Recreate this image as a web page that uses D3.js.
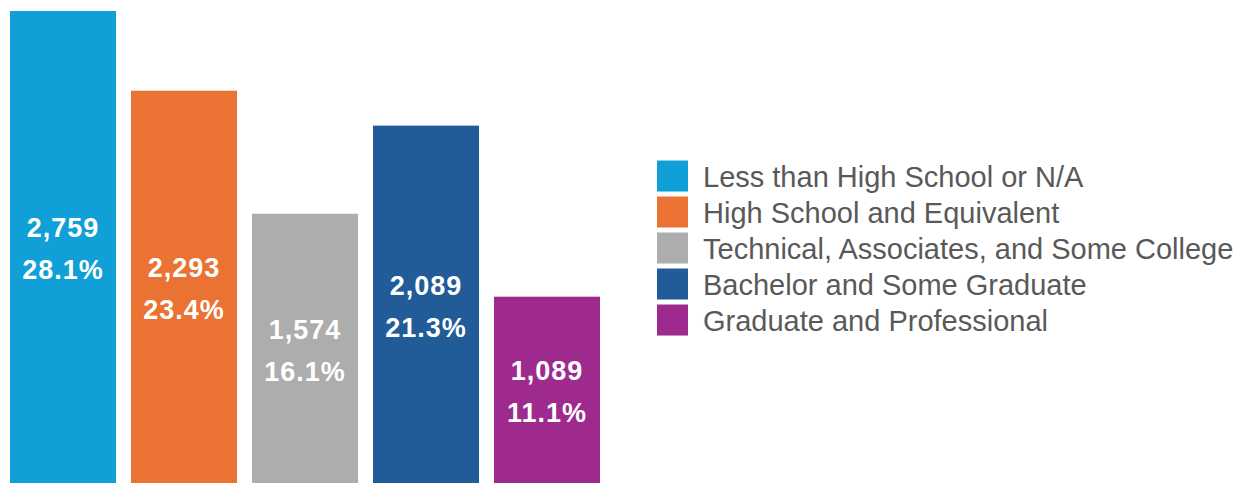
<!DOCTYPE html>
<html>
<head>
<meta charset="utf-8">
<script src="https://cdn.jsdelivr.net/npm/d3@7"></script>
<style>
  body { margin: 0; background: #fff; }
  svg { display: block; }
</style>
</head>
<body>
<figure id="bar" style="margin:0"></figure>
<script>
// chart data
const categories = [
  'Less than High School or N/A',
  'High School and Equivalent',
  'Technical, Associates, and Some College',
  'Bachelor and Some Graduate',
  'Graduate and Professional'
];
const counts = [2759, 2293, 1574, 2089, 1089];
const percents = ['28.1%', '23.4%', '16.1%', '21.3%', '11.1%'];
const colors = ['#109fd6', '#ea7232', '#adadad', '#215b98', '#9e2a8e'];

const width = 1251;
const height = 483;

const svg = d3.select('figure#bar')
  .append('svg')
  .attr('width', width)
  .attr('height', height);

// x band for the bars, y linear for the counts
const x = d3.scaleBand()
  .domain(categories)
  .range([10, 600])
  .paddingInner(0.124)
  .paddingOuter(0);

const y = d3.scaleLinear()
  .domain([0, d3.max(counts)])
  .range([483, 11]);

const color = d3.scaleOrdinal().domain(categories).range(colors);

const data = categories.map((c, i) => ({ category: c, count: counts[i], pct: percents[i] }));

svg.selectAll('rect.bar')
  .data(data)
  .enter()
  .append('rect')
  .attr('class', 'bar')
  .attr('x', d => x(d.category))
  .attr('y', d => y(d.count))
  .attr('width', x.bandwidth())
  .attr('height', d => y(0) - y(d.count))
  .attr('fill', d => color(d.category));

// value labels, centred in each bar
const labels = svg.selectAll('g.label')
  .data(data)
  .enter()
  .append('g')
  .attr('class', 'label')
  .attr('transform', d => 'translate(' + (x(d.category) + x.bandwidth() / 2) + ',' + ((y(d.count) + y(0)) / 2 + 2) + ')')
  .style('font-family', '"Liberation Sans", Arial, sans-serif')
  .style('font-weight', 'bold')
  .style('font-size', '27px')
  .style('letter-spacing', '1px')
  .attr('fill', '#fff')
  .attr('text-anchor', 'middle');

labels.append('text')
  .attr('y', -21)
  .attr('dy', '0.35em')
  .text(d => d3.format(',')(d.count));

labels.append('text')
  .attr('y', 21)
  .attr('dy', '0.35em')
  .text(d => d.pct);

// legend
const ly = d3.scaleBand()
  .domain(categories)
  .range([158, 338])
  .paddingInner(0.14)
  .paddingOuter(0.07);

const legend = svg.selectAll('g.legend')
  .data(categories)
  .enter()
  .append('g')
  .attr('class', 'legend')
  .attr('transform', d => 'translate(657,' + ly(d) + ')');

legend.append('rect')
  .attr('width', 31)
  .attr('height', 31)
  .attr('fill', d => color(d));

legend.append('text')
  .attr('x', 46)
  .attr('y', 16)
  .attr('dy', '0.35em')
  .style('font-family', '"Liberation Sans", Arial, sans-serif')
  .style('font-size', '29px')
  .attr('fill', '#595959')
  .text(d => d);
</script>
</body>
</html>
